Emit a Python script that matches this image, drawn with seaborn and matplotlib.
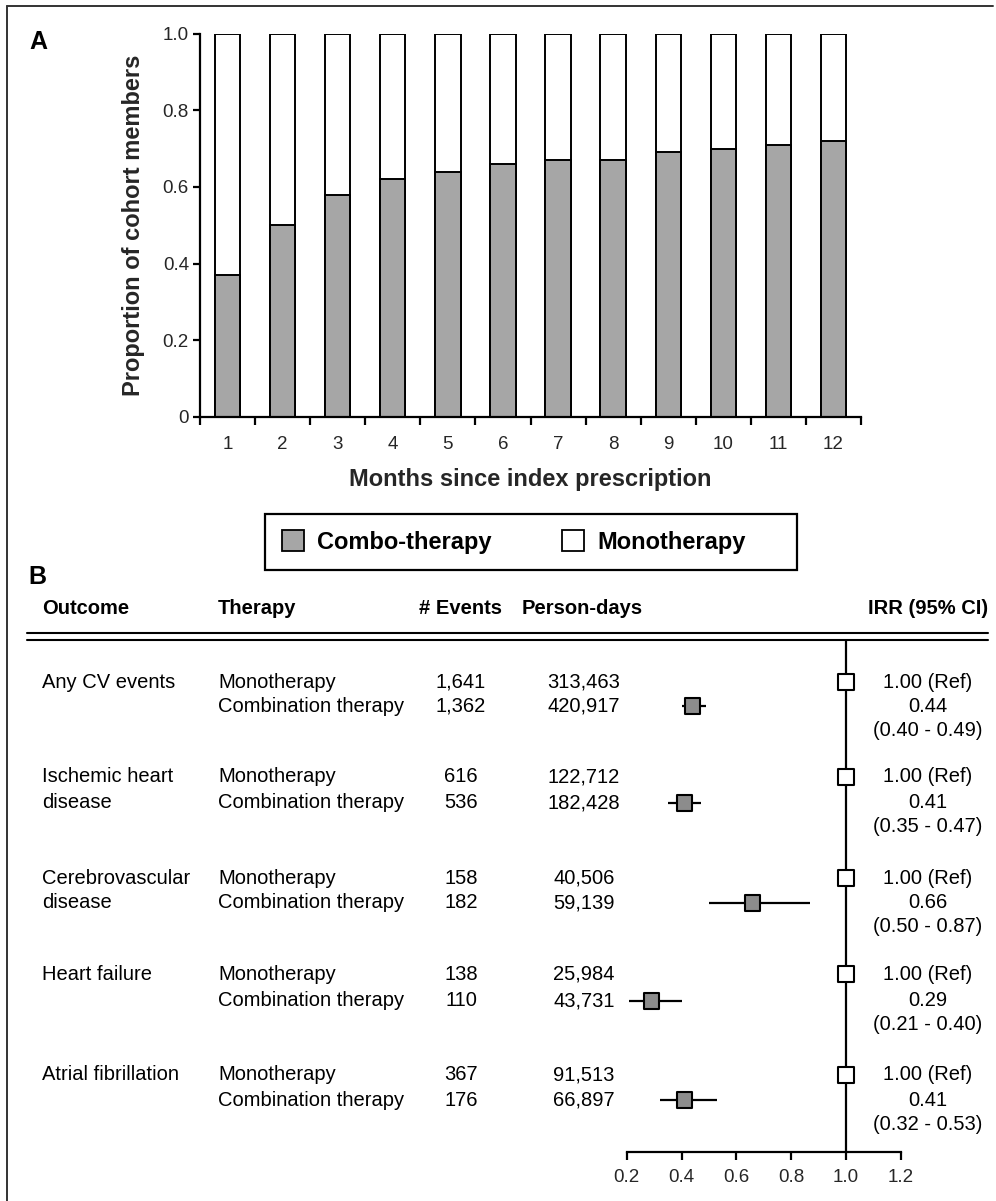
import matplotlib
matplotlib.use("Agg")
import matplotlib.pyplot as plt
from matplotlib.patches import Patch, Rectangle
from matplotlib.lines import Line2D
import numpy as np
import pandas as pd
import seaborn as sns

# ---- Panel A data: share of cohort on each therapy by month ----
months = ["1", "2", "3", "4", "5", "6", "7", "8", "9", "10", "11", "12"]
combo_share = [0.37, 0.50, 0.58, 0.62, 0.64, 0.66, 0.67, 0.67, 0.69, 0.70, 0.71, 0.72]
mono_share = [0.63, 0.50, 0.42, 0.38, 0.36, 0.34, 0.33, 0.33, 0.31, 0.30, 0.29, 0.28]

# ---- Panel B data: outcomes table and incidence rate ratios ----
outcome_lines = [["Any CV events"], ["Ischemic heart", "disease"],
                 ["Cerebrovascular", "disease"], ["Heart failure"],
                 ["Atrial fibrillation"]]
mono_events = ["1,641", "616", "158", "138", "367"]
combo_events = ["1,362", "536", "182", "110", "176"]
mono_pdays = ["313,463", "122,712", "40,506", "25,984", "91,513"]
combo_pdays = ["420,917", "182,428", "59,139", "43,731", "66,897"]
irr_combo = [0.44, 0.41, 0.66, 0.29, 0.41]
ci_low = [0.40, 0.35, 0.50, 0.21, 0.32]
ci_high = [0.49, 0.47, 0.87, 0.40, 0.53]
irr_ticks = [0.2, 0.4, 0.6, 0.8, 1.0, 1.2]

W, H = 996, 1201
sns.set_theme(style="white")
plt.rcParams["font.family"] = ["Liberation Sans", "DejaVu Sans"]
plt.rcParams["text.color"] = "black"


def fx(px):
    return px / W


def fy(py):
    return 1 - py / H


fig = plt.figure(figsize=(W / 100, H / 100), dpi=100)
fig.patch.set_facecolor("white")
fig.patch.set_linewidth(0)

# outer frame (top and left edges of the panel box)
fig.lines.append(Line2D([fx(7), fx(993)], [fy(6), fy(6)], transform=fig.transFigure,
                        color="#333333", linewidth=1.4))
fig.lines.append(Line2D([fx(7), fx(7)], [fy(6), fy(1201)], transform=fig.transFigure,
                        color="#333333", linewidth=1.4))

BAR_GRAY = "#A6A6A6"
PT_GRAY = "#8C8C8C"

# ---------------- Panel A: stacked proportions ----------------
axA = fig.add_axes([fx(200), fy(416.7), fx(861) - fx(200), (416.7 - 33.7) / H])
dfA = pd.DataFrame({"month": months,
                    "combo": combo_share,
                    "total": np.array(combo_share) + np.array(mono_share)})
sns.barplot(data=dfA, x="month", y="total", color="white", saturation=1,
            edgecolor="black", linewidth=1.4, width=0.46, ax=axA)
sns.barplot(data=dfA, x="month", y="combo", color=BAR_GRAY, saturation=1,
            edgecolor="black", linewidth=1.4, width=0.46, ax=axA)
axA.set_xlim(-0.5, len(months) - 0.5)
axA.set_ylim(0, 1.0)
axA.set_facecolor("white")
for s in ["top", "right"]:
    axA.spines[s].set_visible(False)
for s in ["left", "bottom"]:
    axA.spines[s].set_color("black")
    axA.spines[s].set_linewidth(1.6)
axA.set_yticks([0, 0.2, 0.4, 0.6, 0.8, 1.0])
axA.set_yticklabels(["0", "0.2", "0.4", "0.6", "0.8", "1.0"], fontsize=13.5)
axA.set_xticks(np.arange(len(months) + 1) - 0.5)
axA.set_xticklabels([])
axA.set_xticks(np.arange(len(months)), minor=True)
axA.set_xticklabels(months, minor=True, fontsize=13.5)
axA.tick_params(axis="x", which="major", direction="out", length=6, width=1.6,
                color="black", bottom=True)
axA.tick_params(axis="x", which="minor", length=0, pad=14, bottom=True)
axA.tick_params(axis="y", direction="out", length=5, width=1.6, color="black",
                left=True, pad=3)
axA.set_xlabel("Months since index prescription", fontsize=17, fontweight="bold",
               labelpad=11)
axA.set_ylabel("Proportion of cohort members", fontsize=17, fontweight="bold",
               labelpad=13)

fig.text(fx(29), fy(42), "A", fontsize=18, fontweight="bold", ha="left", va="center")

# legend for panel A: box drawn separately so its size is fixed
fig.patches.append(Rectangle((fx(265), fy(570)), fx(797) - fx(265), (570 - 514) / H,
                             transform=fig.transFigure, fill=False,
                             edgecolor="black", linewidth=1.6))
handles = [Patch(facecolor=BAR_GRAY, edgecolor="black", linewidth=1.3, label="Combo-therapy"),
           Patch(facecolor="white", edgecolor="black", linewidth=1.3, label="Monotherapy")]
leg = fig.legend(handles=handles, loc="center left", ncol=2,
                 bbox_to_anchor=(fx(282), fy(542)), bbox_transform=fig.transFigure,
                 frameon=False, prop={"size": 17, "weight": "bold"},
                 handlelength=0.95, handleheight=0.95, handletextpad=0.55,
                 borderpad=0, borderaxespad=0, columnspacing=2.95)

# ---------------- Panel B: table + forest plot ----------------
fig.text(fx(28), fy(577), "B", fontsize=18, fontweight="bold", ha="left", va="center")

hdr_y = 608
hdr = dict(fontsize=14.5, fontweight="bold", va="center")
fig.text(fx(42), fy(hdr_y), "Outcome", ha="left", **hdr)
fig.text(fx(218), fy(hdr_y), "Therapy", ha="left", **hdr)
fig.text(fx(460), fy(hdr_y), "# Events", ha="center", **hdr)
fig.text(fx(582), fy(hdr_y), "Person-days", ha="center", **hdr)
fig.text(fx(928), fy(hdr_y), "IRR (95% CI)", ha="center", **hdr)

for yy in (633, 639.5):
    fig.lines.append(Line2D([fx(27), fx(988)], [fy(yy), fy(yy)], transform=fig.transFigure,
                            color="black", linewidth=1.5))

mono_y = [682, 777, 878, 974, 1075]
combo_y = [706, 803, 903, 1001, 1100]
line_gap = 24

body = dict(fontsize=14.5, va="center")
for i in range(len(outcome_lines)):
    for k, txt in enumerate(outcome_lines[i]):
        fig.text(fx(42), fy(mono_y[i] + k * (combo_y[i] - mono_y[i])), txt, ha="left", **body)
    fig.text(fx(218), fy(mono_y[i]), "Monotherapy", ha="left", **body)
    fig.text(fx(218), fy(combo_y[i]), "Combination therapy", ha="left", **body)
    fig.text(fx(461), fy(mono_y[i]), mono_events[i], ha="center", **body)
    fig.text(fx(461), fy(combo_y[i]), combo_events[i], ha="center", **body)
    fig.text(fx(584), fy(mono_y[i]), mono_pdays[i], ha="center", **body)
    fig.text(fx(584), fy(combo_y[i]), combo_pdays[i], ha="center", **body)
    fig.text(fx(928), fy(mono_y[i]), "1.00 (Ref)", ha="center", **body)
    fig.text(fx(928), fy(combo_y[i]), f"{irr_combo[i]:.2f}", ha="center", **body)
    fig.text(fx(928), fy(combo_y[i] + line_gap),
             f"({ci_low[i]:.2f} - {ci_high[i]:.2f})", ha="center", **body)

axB = fig.add_axes([fx(626.7), fy(1152), fx(900.7) - fx(626.7), (1152 - 640) / H])
axB.set_facecolor("none")
axB.set_xlim(0.2, 1.2)
axB.set_ylim(1152, 640)
axB.axvline(1.0, color="black", linewidth=1.6, zorder=1)
axB.hlines(combo_y, ci_low, ci_high, color="black", linewidth=1.6, zorder=2)

dfB = pd.DataFrame({
    "irr": [1.0] * len(mono_y) + irr_combo,
    "y": mono_y + combo_y,
    "therapy": ["Monotherapy"] * len(mono_y) + ["Combination therapy"] * len(combo_y),
})
sns.scatterplot(data=dfB, x="irr", y="y", hue="therapy",
                palette={"Monotherapy": "white", "Combination therapy": PT_GRAY},
                marker="s", s=120, edgecolor="black", linewidth=1.5, legend=False,
                zorder=3, ax=axB)
for s in ["top", "right", "left"]:
    axB.spines[s].set_visible(False)
axB.spines["bottom"].set_color("black")
axB.spines["bottom"].set_linewidth(1.6)
axB.spines["bottom"].set_bounds(0.2, 1.2)
axB.set_xticks(irr_ticks)
axB.set_xticklabels([f"{t:.1f}" for t in irr_ticks], fontsize=13.5)
axB.set_yticks([])
axB.tick_params(axis="x", direction="out", length=6, width=1.6, color="black",
                bottom=True, pad=6)
axB.set_xlabel("")
axB.set_ylabel("")
for coll in axB.collections:
    coll.set_clip_on(False)

fig.savefig("out.png", dpi=100, facecolor="white")
